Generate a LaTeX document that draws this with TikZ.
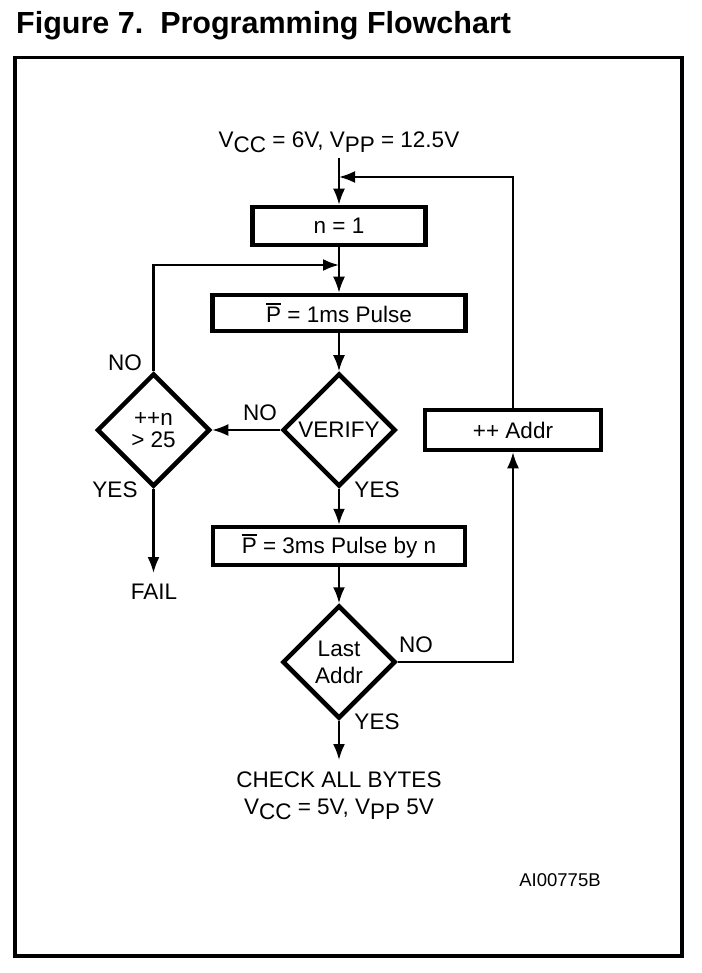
\documentclass[tikz,border=0pt]{standalone}
\usepackage{fontspec}
\setmainfont{Liberation Sans}
\usetikzlibrary{shapes.geometric,arrows.meta}
\newcommand{\Pbar}{\leavevmode\setbox0\hbox{P}\rlap{\rule[\dimexpr\ht0+2pt\relax]{\wd0}{1.8pt}}\box0}
\newcommand{\sub}[1]{\raisebox{-5pt}{#1}}

\begin{document}
\begin{tikzpicture}[x=1pt,y=-1pt,
  >={Latex[length=16pt,width=12pt]},
  every node/.style={font=\fontsize{22.5}{27}\selectfont},
  box/.style={draw,line width=4.5pt,inner sep=0pt},
  decision/.style={draw,diamond,aspect=1,line width=4.5pt,inner sep=0pt,
    minimum width=113pt,minimum height=113pt,align=center},
  lbl/.style={inner sep=0pt},
  conn/.style={line width=2.2pt}]
\useasboundingbox (0,0) rectangle (701,973);

\node[lbl,anchor=base west,font=\bfseries\fontsize{30.5}{36}\selectfont] (title) at (16,34) {Figure 7.\ \ Programming Flowchart};
\draw[line width=3.2pt] (15,57.5) rectangle (682,956);

\node[lbl,anchor=base] (vtop) at (339,148) {V\sub{CC} = 6V, V\sub{PP} = 12.5V};
\node[box,minimum width=173pt,minimum height=38pt] (n1) at (339,226) {n = 1};
\node[box,minimum width=253pt,minimum height=36pt] (p1) at (339,313) {\Pbar{} = 1ms Pulse};
\node[decision] (verify) at (339,430) {VERIFY};
\node[decision] (cnt) at (153.5,430) {++n\\[-5pt]> 25};
\node[box,minimum width=176pt,minimum height=40pt] (addr) at (513,430) {++ Addr};
\node[box,minimum width=252pt,minimum height=38pt] (p3) at (339,546) {\Pbar{} = 3ms Pulse by n};
\node[decision] (last) at (339,662) {Last\\Addr};
\node[lbl,align=center] (check) at (339,796) {CHECK ALL BYTES\\V\sub{CC} = 5V, V\sub{PP} 5V};
\node[lbl] (fail) at (154,592) {FAIL};
\node[lbl,font=\fontsize{18.5}{22}\selectfont] (code) at (560,880) {AI00775B};

% yes / no labels
\node[lbl] (noa) at (125,363) {NO};
\node[lbl] (nob) at (260,413) {NO};
\node[lbl] (yesa) at (115,490) {YES};
\node[lbl] (yesb) at (377,490) {YES};
\node[lbl] (noc) at (416,645) {NO};
\node[lbl] (yesc) at (377,722) {YES};

\coordinate (vstart) at (339,158);
\coordinate (fb) at (339,177);
\coordinate (lp) at (339,265);
\coordinate (failend) at (153.5,573);
\coordinate (checkend) at (339,760);

\draw[conn,->] (vstart) -- (n1);
\draw[conn,->] (addr.north) |- (fb);
\draw[conn,->] (n1) -- (p1);
\draw[conn,->] (cnt.north) |- (lp);
\draw[conn,->] (p1) -- (verify);
\draw[conn,->] (verify.west) -- (cnt.east);
\draw[conn,->] (cnt.south) -- (failend);
\draw[conn,->] (verify) -- (p3);
\draw[conn,->] (p3) -- (last);
\draw[conn,->] (last.east) -| (addr.south);
\draw[conn,->] (last.south) -- (checkend);

\end{tikzpicture}
\end{document}
